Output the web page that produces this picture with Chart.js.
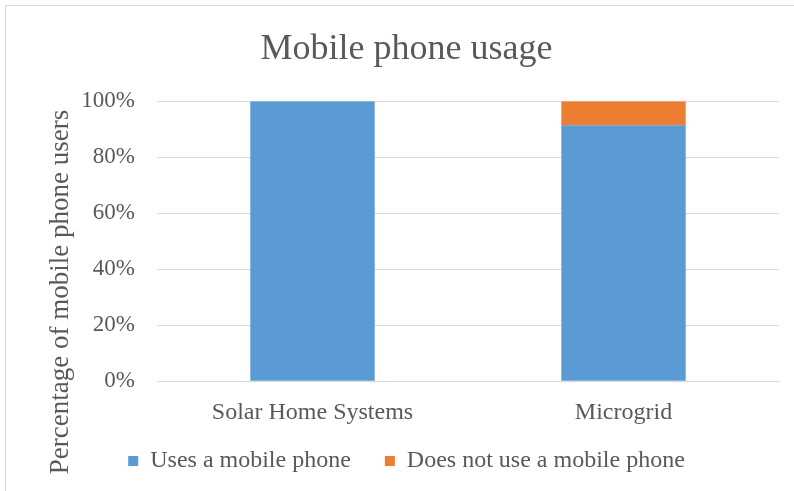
<!DOCTYPE html>
<html><head><meta charset="utf-8">
<script src="https://cdn.jsdelivr.net/npm/chart.js@4"></script>
<style>
html,body{margin:0;padding:0;background:#fff;overflow:hidden}
#wrap{position:absolute;left:0;top:0;width:794px;height:491px}
#frame{position:absolute;left:5px;top:5px;width:820px;height:520px;border:1px solid #d9d9d9;box-sizing:border-box}
canvas{position:absolute;left:0;top:0}
</style></head>
<body>
<div id="wrap"><div id="frame"></div><canvas id="c" width="794" height="491"></canvas></div>
<script>
const categories = ["Solar Home Systems", "Microgrid"];
const usesPhone = [100, 91.4];
const noPhone = [0, 8.6];
const yTicks = [0, 20, 40, 60, 80, 100];
const yTitle = "Percentage of mobile phone users";

const font = "'Liberation Serif', 'Times New Roman', serif";
const grey = "#595959";

const yTitlePlugin = {
  id: 'yTitle',
  afterDraw(chart) {
    const ctx = chart.ctx;
    ctx.save();
    ctx.translate(61, 292);
    ctx.rotate(-Math.PI / 2);
    ctx.font = "27px " + font;
    ctx.fillStyle = grey;
    ctx.textAlign = 'center';
    ctx.textBaseline = 'middle';
    ctx.fillText(yTitle, 0, 0);
    ctx.restore();
  }
};

// keep wide horizontal spacing between legend items but a small top padding
const LEG_SHIFT = 29;
const legendSpacing = {
  id: 'legendSpacing',
  beforeLayout(chart) {
    const lg = chart.legend;
    if (!lg || lg._patched) return;
    lg._patched = true;
    const fit = lg.fit.bind(lg);
    const draw = lg.draw.bind(lg);
    lg.fit = function() { fit(); this.height -= LEG_SHIFT; };
    lg.draw = function(a) { this.top -= LEG_SHIFT; draw(a); this.top += LEG_SHIFT; };
  }
};

new Chart(document.getElementById('c'), {
  type: 'bar',
  data: {
    labels: categories,
    datasets: [
      {label: 'Uses a mobile phone', data: usesPhone, backgroundColor: '#5b9bd5', categoryPercentage: 0.8, barPercentage: 0.5},
      {label: 'Does not use a mobile phone', data: noPhone, backgroundColor: '#ed7d31', categoryPercentage: 0.8, barPercentage: 0.5}
    ]
  },
  plugins: [yTitlePlugin, legendSpacing],
  options: {
    responsive: false,
    animation: false,
    devicePixelRatio: 1,
    layout: {padding: {left: 34, right: 15, top: 0, bottom: 8}},
    plugins: {
      title: {display: true, text: 'Mobile phone usage', color: grey, font: {family: font, size: 36, weight: 'normal'}, padding: {top: 28, bottom: 30}},
      legend: {position: 'bottom', labels: {color: grey, font: {family: font, size: 24}, boxWidth: 10, boxHeight: 10, padding: 34}},
      tooltip: {enabled: false}
    },
    scales: {
      x: {
        stacked: true,
        grid: {display: false, drawTicks: false},
        border: {color: '#d9d9d9'},
        ticks: {color: grey, font: {family: font, size: 24}, padding: 17}
      },
      y: {
        stacked: true,
        min: 0, max: 100,
        afterBuildTicks: s => { s.ticks = yTicks.map(v => ({value: v})); },
        afterFit: s => { s.width = 123; },
        grid: {color: '#d9d9d9', drawTicks: false},
        border: {display: false},
        ticks: {color: grey, font: {family: font, size: 23}, padding: 22, callback: v => v + '%'}
      }
    }
  }
});
</script>
</body></html>
